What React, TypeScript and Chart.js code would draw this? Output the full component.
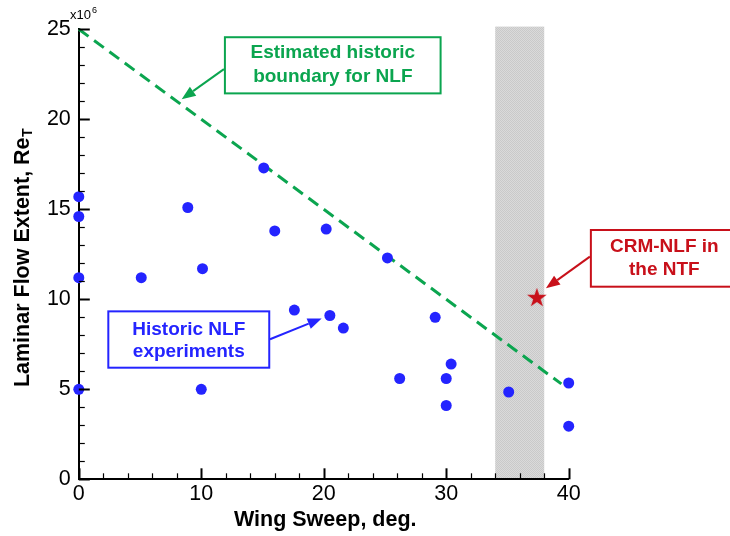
import React, { useEffect, useRef } from "react";
import { Chart, registerables } from "chart.js";

Chart.register(...registerables);

// ---- data ----
const historicSweep = [0, 0, 0, 0, 5.1, 8.9, 10.1, 10.0, 15.1, 16.0, 17.6, 20.2, 20.5, 21.6, 25.2, 26.2, 29.1, 30.0, 30.4, 30.0, 35.1, 40.0, 40.0];
const historicRe = [15.7, 14.6, 11.2, 5.0, 11.2, 15.1, 11.7, 5.0, 17.3, 13.8, 9.4, 13.9, 9.1, 8.4, 12.3, 5.6, 9.0, 5.6, 6.4, 4.1, 4.85, 5.35, 2.95];
const crmSweep = [37.4];
const crmRe = [10.07];
const boundarySweep = [0, 39.4];
const boundaryRe = [25, 5.3];
const ntfSweepRange = [34, 38];
const xRange = [0, 40];
const yRange = [0, 25];

const FONT = '"Liberation Sans", Arial, Helvetica, sans-serif';
const GREEN = "#0ba54f";
const BLUE = "#2424ff";
const RED = "#c8101a";

// annotation layout (data coordinates)
const annotations = [
  {
    color: GREEN,
    box: [11.93, 24.56, 29.54, 21.44],
    lines: ["Estimated historic", "boundary for NLF"],
    textX: 20.74,
    textY: [23.68, 22.37],
    arrow: [11.85, 22.79, 8.4, 21.11],
  },
  {
    color: BLUE,
    box: [2.41, 9.33, 15.55, 6.2],
    lines: ["Historic NLF", "experiments"],
    textX: 8.98,
    textY: [8.33, 7.09],
    arrow: [15.61, 7.78, 19.83, 8.94],
  },
  {
    color: RED,
    box: [41.81, 13.85, 55.0, 10.7],
    lines: ["CRM-NLF in", "the NTF"],
    textX: 47.81,
    textY: [12.92, 11.63],
    arrow: [41.73, 12.37, 38.14, 10.61],
  },
];

function makeStar(color: string) {
  const R = 10.3;
  const r = R * 0.382;
  const size = 24;
  const c = document.createElement("canvas");
  c.width = size;
  c.height = size;
  const g = c.getContext("2d")!;
  g.fillStyle = color;
  g.beginPath();
  for (let i = 0; i < 10; i++) {
    const rad = i % 2 === 0 ? R : r;
    const a = -Math.PI / 2 + (i * Math.PI) / 5;
    const px = size / 2 + rad * Math.cos(a);
    const py = size / 2 + rad * Math.sin(a);
    if (i === 0) g.moveTo(px, py);
    else g.lineTo(px, py);
  }
  g.closePath();
  g.fill();
  return c;
}

function makePattern(ctx: CanvasRenderingContext2D) {
  const c = document.createElement("canvas");
  c.width = 2;
  c.height = 2;
  const g = c.getContext("2d")!;
  g.fillStyle = "#dadada";
  g.fillRect(0, 0, 2, 2);
  g.fillStyle = "#c9c9c9";
  g.fillRect(0, 0, 1, 1);
  g.fillRect(1, 1, 1, 1);
  return ctx.createPattern(c, "repeat")!;
}

function drawArrow(ctx: CanvasRenderingContext2D, x1: number, y1: number, x2: number, y2: number, color: string) {
  const ang = Math.atan2(y2 - y1, x2 - x1);
  const hl = 14;
  const hw = 5.5;
  const bx = x2 - hl * Math.cos(ang);
  const by = y2 - hl * Math.sin(ang);
  ctx.save();
  ctx.strokeStyle = color;
  ctx.fillStyle = color;
  ctx.lineWidth = 2;
  ctx.beginPath();
  ctx.moveTo(x1, y1);
  ctx.lineTo(bx, by);
  ctx.stroke();
  ctx.beginPath();
  ctx.moveTo(x2, y2);
  ctx.lineTo(bx + hw * Math.sin(ang), by - hw * Math.cos(ang));
  ctx.lineTo(bx - hw * Math.sin(ang), by + hw * Math.cos(ang));
  ctx.closePath();
  ctx.fill();
  ctx.restore();
}

const decorPlugin = {
  id: "decor",
  beforeDraw(chart: any) {
    const { ctx, scales } = chart;
    const x = scales.x;
    const y = scales.y;
    ctx.save();
    ctx.fillStyle = "#ffffff";
    ctx.fillRect(0, 0, chart.width, chart.height);
    const x1 = x.getPixelForValue(ntfSweepRange[0]);
    const x2 = x.getPixelForValue(ntfSweepRange[1]);
    const yt = y.getPixelForValue(25.15);
    const yb = y.getPixelForValue(0);
    ctx.fillStyle = makePattern(ctx);
    ctx.fillRect(x1, yt, x2 - x1, yb - yt);
    ctx.restore();
  },
  afterDraw(chart: any) {
    const { ctx, scales } = chart;
    const x = scales.x;
    const y = scales.y;
    const left = x.getPixelForValue(xRange[0]);
    const bottom = y.getPixelForValue(yRange[0]);
    ctx.save();
    ctx.strokeStyle = "#000";
    // x ticks (inward)
    for (let v = xRange[0]; v <= xRange[1]; v += 2) {
      const major = v % 10 === 0;
      const px = Math.round(x.getPixelForValue(v)) + 0.5;
      ctx.lineWidth = major ? 2 : 1.2;
      ctx.beginPath();
      ctx.moveTo(px, bottom);
      ctx.lineTo(px, bottom - (major ? 11 : 6));
      ctx.stroke();
    }
    // y ticks (inward)
    for (let v = yRange[0]; v <= yRange[1]; v += 1) {
      const major = v % 5 === 0;
      const py = Math.round(y.getPixelForValue(v)) + 0.5;
      ctx.lineWidth = major ? 2 : 1.2;
      ctx.beginPath();
      ctx.moveTo(left, py);
      ctx.lineTo(left + (major ? 11 : 6), py);
      ctx.stroke();
    }

    // multiplier label
    ctx.fillStyle = "#000";
    ctx.textBaseline = "alphabetic";
    ctx.textAlign = "left";
    ctx.font = `13px ${FONT}`;
    ctx.fillText("x10", 70, 18.5);
    const w10 = ctx.measureText("x10").width;
    ctx.font = `9px ${FONT}`;
    ctx.fillText("6", 70 + w10 + 1, 13);

    // x title
    ctx.font = `bold 21.5px ${FONT}`;
    ctx.textAlign = "center";
    ctx.textBaseline = "middle";
    ctx.fillText("Wing Sweep, deg.", (x.left + x.right) / 2 + 1.5, 520);

    // y title with subscript
    ctx.save();
    ctx.translate(23, 258);
    ctx.rotate(-Math.PI / 2);
    ctx.textAlign = "left";
    ctx.textBaseline = "middle";
    const mainFont = `bold 21.5px ${FONT}`;
    const subFont = `bold 14px ${FONT}`;
    ctx.font = mainFont;
    const main = "Laminar Flow Extent, Re";
    const wm = ctx.measureText(main).width;
    ctx.font = subFont;
    const ws = ctx.measureText("T").width;
    const start = -(wm + ws) / 2;
    ctx.font = mainFont;
    ctx.fillText(main, start, 0);
    ctx.font = subFont;
    ctx.fillText("T", start + wm + 0.5, 5);
    ctx.restore();

    // annotations
    for (const a of annotations) {
      const bx1 = x.getPixelForValue(a.box[0]);
      const by1 = y.getPixelForValue(a.box[1]);
      const bx2 = x.getPixelForValue(a.box[2]);
      const by2 = y.getPixelForValue(a.box[3]);
      ctx.fillStyle = "#fff";
      ctx.fillRect(bx1, by1, bx2 - bx1, by2 - by1);
      ctx.strokeStyle = a.color;
      ctx.lineWidth = 2;
      ctx.strokeRect(bx1, by1, bx2 - bx1, by2 - by1);
      ctx.fillStyle = a.color;
      ctx.font = `bold 19px ${FONT}`;
      ctx.textAlign = "center";
      ctx.textBaseline = "middle";
      a.lines.forEach((t, i) => {
        ctx.fillText(t, x.getPixelForValue(a.textX), y.getPixelForValue(a.textY[i]));
      });
      drawArrow(
        ctx,
        x.getPixelForValue(a.arrow[0]),
        y.getPixelForValue(a.arrow[1]),
        x.getPixelForValue(a.arrow[2]),
        y.getPixelForValue(a.arrow[3]),
        a.color
      );
    }
    ctx.restore();
  },
};

export default function App() {
  const ref = useRef<HTMLCanvasElement | null>(null);
  useEffect(() => {
    if (!ref.current) return;
    const star = makeStar(RED);
    const chart = new Chart(ref.current, {
      type: "scatter",
      data: {
        datasets: [
          {
            label: "CRM-NLF in the NTF",
            data: crmSweep.map((v, i) => ({ x: v, y: crmRe[i] })),
            pointStyle: star as any,
            pointRadius: 10,
            backgroundColor: RED,
            borderColor: RED,
            clip: false as any,
          },
          {
            label: "Historic NLF experiments",
            data: historicSweep.map((v, i) => ({ x: v, y: historicRe[i] })),
            pointRadius: 5.5,
            pointHoverRadius: 5.5,
            backgroundColor: BLUE,
            borderColor: BLUE,
            borderWidth: 0,
            clip: false as any,
          },
          {
            label: "Estimated historic boundary for NLF",
            data: boundarySweep.map((v, i) => ({ x: v, y: boundaryRe[i] })),
            showLine: true,
            pointRadius: 0,
            borderColor: GREEN,
            borderWidth: 3,
            borderDash: [12, 7],
            clip: false as any,
          },
        ],
      },
      options: {
        responsive: false,
        animation: false,
        devicePixelRatio: 1,
        layout: { padding: { left: 0, top: 29.3, right: 161.3, bottom: 0 } },
        plugins: {
          legend: { display: false },
          tooltip: { enabled: false },
          title: { display: false },
        },
        scales: {
          x: {
            type: "linear",
            min: xRange[0],
            max: xRange[1],
            grid: { display: false, drawTicks: false },
            border: { display: true, color: "#000", width: 2 },
            ticks: {
              stepSize: 10,
              color: "#000",
              padding: 2,
              font: { family: FONT, size: 21.5 },
            },
            afterFit: (s: any) => {
              s.height = 536 - 479.3;
            },
          },
          y: {
            type: "linear",
            min: yRange[0],
            max: yRange[1],
            grid: { display: false, drawTicks: false },
            border: { display: true, color: "#000", width: 2 },
            ticks: {
              stepSize: 5,
              color: "#000",
              padding: 8,
              font: { family: FONT, size: 21.5 },
            },
            afterFit: (s: any) => {
              s.width = 78.8;
            },
          },
        },
      },
      plugins: [decorPlugin],
    });
    return () => chart.destroy();
  }, []);
  return (
    <div style={{ position: "absolute", left: 0, top: 0, width: 730, height: 536, background: "#fff" }}>
      <canvas ref={ref} width={730} height={536} />
    </div>
  );
}
